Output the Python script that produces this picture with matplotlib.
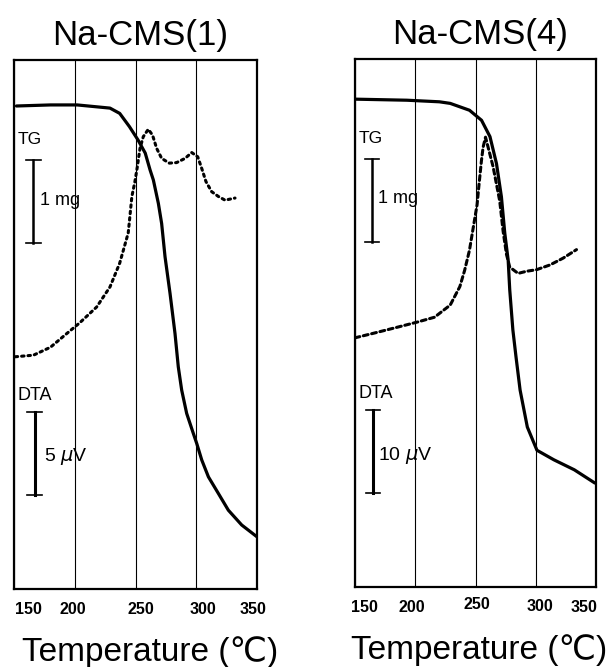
import matplotlib
matplotlib.use('Agg')
import matplotlib.pyplot as plt
import matplotlib.transforms as mtransforms

plt.rcParams['font.family'] = ['Liberation Sans', 'DejaVu Sans']

# data (temperature in C, signal in arbitrary units 0-100)
tg1_t = [152, 180, 202, 229, 237, 245, 252, 258, 262, 264.7, 268.8, 271.5, 274.3, 278.4, 282.5, 285.2, 288, 292.1,
         297.6, 300.4, 304.5, 310, 318.1, 326.4, 337.4, 349.8]
tg1_y = [91.3, 91.5, 91.5, 90.9, 89.9, 87.4, 84.9, 82.4, 79.2, 77.3, 72.9, 69.1, 62.8, 55.9, 48.3, 42.0, 37.6, 33.2,
         29.4, 27.5, 24.4, 21.2, 18.1, 14.9, 12.1, 9.9]
dta1_t = [151, 166, 180, 194, 204, 218, 229, 237, 244, 245.5, 247, 249.5, 251.5, 253.7, 256.4, 260.5, 264, 267.4,
          271.5, 277.8, 283.8, 290.8, 296.3, 301.2, 304.5, 308, 312.7, 318.2, 323.7, 331.9]
dta1_y = [43.9, 44.2, 45.7, 48.4, 50.3, 53.3, 57.1, 61.6, 67.3, 70.7, 74.2, 77.0, 79.8, 83.3, 85.5, 86.9, 85.8, 83.3,
          81.4, 80.5, 80.6, 81.4, 82.5, 81.7, 79.5, 77.0, 75.1, 74.2, 73.5, 73.9]

tg4_t = [150, 193, 220, 229, 245, 255, 262, 267.4, 271.5, 274.3, 277.1, 278.4, 281, 283.6, 287, 293, 301, 315, 332, 349]
tg4_y = [92.4, 92.2, 91.9, 91.6, 90.3, 88.4, 85.3, 80.2, 73.9, 67.0, 61.9, 56.3, 48.7, 43.6, 37.3, 30.3, 25.9, 24.1, 22.2, 19.7]
dta4_t = [150, 166, 185, 202, 216, 229, 237, 241, 245, 248.5, 251.3, 252.9, 254.9, 256.3, 258.3, 264.6, 270.1, 272.9,
          275.7, 278.4, 285.3, 292.3, 300.6, 311.8, 322.8, 333.8]
dta4_y = [47.2, 48.1, 49.2, 50.2, 51.1, 53.4, 56.9, 60.0, 63.8, 68.6, 72.4, 76.2, 80.7, 83.3, 85.2, 79.6, 73.1, 67.4,
          63.0, 60.6, 59.4, 59.8, 60.1, 61.0, 62.3, 63.9]

xticks = [150, 200, 250, 300, 350]
titles = ['Na-CMS(1)', 'Na-CMS(4)']
dta_scales = ['5 $\\mu$V', '10 $\\mu$V']

fig = plt.figure(figsize=(6.14, 6.67), dpi=100)
ax1 = fig.add_axes([0.0228, 0.1169, 0.3958, 0.7932])
ax2 = fig.add_axes([0.5782, 0.1199, 0.3925, 0.7916])

panels = [
    (ax1, tg1_t, tg1_y, dta1_t, dta1_y, (0, (0.8, 1.3)), [14, -2, 5, 7, -4], [0, 0, 0, 0, 0], 0.56),
    (ax2, tg4_t, tg4_y, dta4_t, dta4_y, (0, (1.6, 1.2)), [9, -3, 1, 4, -12], [0, 0, 3, 1, 0], 0.515),
]

for i, (ax, tt, ty, dt, dy, dash, dx_lab, dy_lab, xl) in enumerate(panels):
    ax.plot(tt, ty, color='black', lw=2.3, solid_capstyle='round', solid_joinstyle='round')
    ax.plot(dt, dy, color='black', lw=2.2, linestyle=dash, dash_capstyle='round')
    ax.set_xlim(150, 350)
    ax.set_ylim(0, 100)
    ax.set_yticks([])
    ax.set_xticks(xticks)
    ax.set_xticklabels([str(v) for v in xticks], fontsize=11.5, fontweight='bold')
    ax.tick_params(axis='x', length=0, pad=9)
    ax.grid(True, axis='x', color='black', lw=0.8)
    for s in ax.spines.values():
        s.set_linewidth(1.6)
    for lab, ox, oy in zip(ax.get_xticklabels(), dx_lab, dy_lab):
        off = mtransforms.ScaledTranslation(ox / 100, oy / 100, fig.dpi_scale_trans)
        lab.set_transform(lab.get_transform() + off)

    ax.set_title(titles[i], fontsize=25, pad=11, x=0.52)
    ax.set_xlabel('Temperature (℃)', fontsize=24, va='center')
    ax.xaxis.set_label_coords(xl, -0.12)

    # scale bars
    bx = 0.08 if i == 0 else 0.07
    tr = ax.transAxes
    ax.text(0.015, 0.85, 'TG', transform=tr, fontsize=12.5, va='center')
    ax.plot([bx, bx], [0.654, 0.81], color='black', lw=1.8, transform=tr, clip_on=False)
    ax.plot([bx - 0.03, bx + 0.03], [0.81, 0.81], color='black', lw=1.2, transform=tr)
    ax.plot([bx - 0.03, bx + 0.03], [0.654, 0.654], color='black', lw=1.2, transform=tr)
    ax.text(bx + 0.025, 0.735, '1 mg', transform=tr, fontsize=13, va='center')

    ax.text(0.015, 0.366, 'DTA', transform=tr, fontsize=13, va='center')
    ax.plot([bx + 0.005, bx + 0.005], [0.178, 0.335], color='black', lw=2.2, transform=tr)
    ax.plot([bx - 0.025, bx + 0.035], [0.335, 0.335], color='black', lw=1.2, transform=tr)
    ax.plot([bx - 0.025, bx + 0.035], [0.178, 0.178], color='black', lw=1.2, transform=tr)
    ax.text(bx + 0.045 if i == 0 else bx + 0.025, 0.25, dta_scales[i], transform=tr, fontsize=14, va='center')

fig.savefig('out.png', dpi=100)
